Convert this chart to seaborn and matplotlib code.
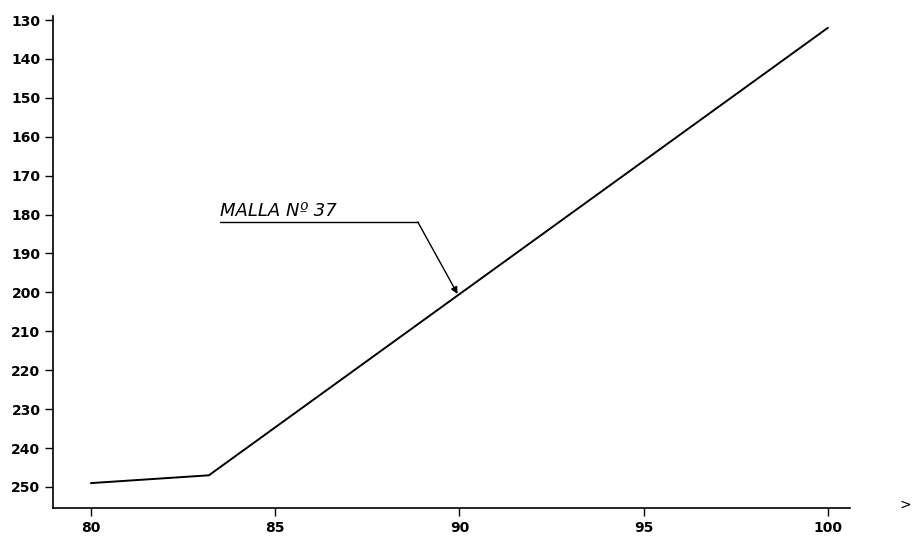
import matplotlib
matplotlib.use("Agg")
import matplotlib.pyplot as plt
import seaborn as sns
import pandas as pd

# data
x_vals = [80.0, 83.2, 100.0]
y_vals = [249.0, 247.0, 132.0]
y_ticks = [130, 140, 150, 160, 170, 180, 190, 200, 210, 220, 230, 240, 250]
x_ticks = [80, 85, 90, 95, 100]
label_text = "MALLA Nº 37"

sns.set_theme(style="white")
plt.rcParams['font.family'] = ['DejaVu Sans']

df = pd.DataFrame({"x": x_vals, "y": y_vals})

fig = plt.figure(figsize=(9.16, 5.57), dpi=100)
ax = fig.add_axes([53/916, 1-508/557, (850-53)/916, (508-16)/557])

sns.lineplot(data=df, x="x", y="y", ax=ax, color="black", linewidth=1.4)

ax.set_xlim(78.97, 100.6)
ax.set_ylim(255.4, 128.97)
ax.set_yticks(y_ticks)
ax.set_xticks(x_ticks)
ax.set_yticklabels([str(t) for t in y_ticks], fontsize=10, fontweight="bold")
ax.set_xticklabels([str(t) for t in x_ticks], fontsize=10, fontweight="bold")
ax.tick_params(axis="both", direction="out", length=6, width=1.0, colors="black",
               left=True, bottom=True, pad=3)
ax.set_xlabel("")
ax.set_ylabel("")
for s in ["top", "right"]:
    ax.spines[s].set_visible(False)
for s in ["left", "bottom"]:
    ax.spines[s].set_color("black")
    ax.spines[s].set_linewidth(1.2)
ax.grid(False)

# annotation
ax.text(83.5, 181.3, label_text, fontsize=13, style="italic", color="black",
        ha="left", va="bottom")
ax.plot([83.5, 88.87], [181.9, 181.9], color="black", linewidth=1.0)
ax.annotate("", xy=(89.95, 200.4), xytext=(88.87, 181.9),
            arrowprops=dict(arrowstyle="-|>", color="black", lw=1.0,
                            mutation_scale=10, shrinkA=0, shrinkB=0))

fig.text(905/916, 1-505/557, ">", fontsize=10, color="black", ha="center", va="center")

fig.savefig("out.png", dpi=100)
